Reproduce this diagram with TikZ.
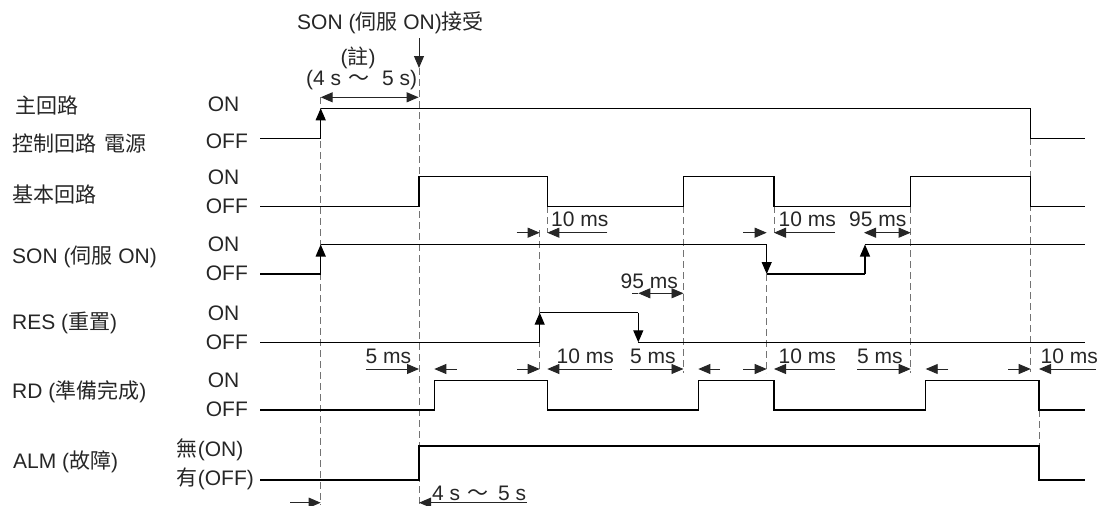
\documentclass[tikz,border=0pt]{standalone}
\usepackage{fontspec}
\setmainfont{Liberation Sans}
\newfontfamily\cjk{Noto Sans CJK TC}
\usetikzlibrary{arrows.meta}
\begin{document}
\begin{tikzpicture}[x=1pt,y=-1pt,
  sig/.style={line width=1.2pt,black},
  edgearrow/.style={sig,-{Triangle[length=12pt,width=10pt]}},
  dashln/.style={line width=1pt,black!55,dash pattern=on 7pt off 4pt},
  dim/.style={line width=0.9pt,black!85,-{Triangle[length=12pt,width=10pt]}},
  dimboth/.style={line width=0.9pt,black!85,{Triangle[length=12pt,width=10pt]}-{Triangle[length=12pt,width=10pt]}},
  lbl/.style={inner sep=0pt,anchor=west,font=\fontsize{21}{24}\selectfont,text=black!85},
  clbl/.style={inner sep=0pt,anchor=center,font=\fontsize{21}{24}\selectfont,text=black!85}]
\useasboundingbox (0,0) rectangle (1109,506);

% ---- left labels ----
\node[lbl] (l1) at (15,105) {\cjk 主回路};
\node[lbl] (l2) at (12,143) {\cjk 控制回路\hspace{0.4em}電源};
\node[lbl] (l3) at (12,195) {\cjk 基本回路};
\node[lbl] (l4) at (12,256.7) {SON ({\cjk 伺服} ON)};
\node[lbl] (l5) at (12,323.3) {RES ({\cjk 重置})};
\node[lbl] (l6) at (12,391.7) {RD ({\cjk 準備完成})};
\node[lbl] (l7) at (13,461.7) {ALM ({\cjk 故障})};

\node[lbl] (on1) at (207.7,104) {ON};
\node[lbl] (off1) at (205.7,141) {OFF};
\node[lbl] (on2) at (207.7,177.5) {ON};
\node[lbl] (off2) at (205.7,206) {OFF};
\node[lbl] (on3) at (207.7,244) {ON};
\node[lbl] (off3) at (205.7,273) {OFF};
\node[lbl] (on4) at (207.7,313) {ON};
\node[lbl] (off4) at (205.7,342) {OFF};
\node[lbl] (on5) at (207.7,380) {ON};
\node[lbl] (off5) at (205.7,409) {OFF};
\node[lbl] (on6) at (176.7,450) {{\cjk 無}(ON)};
\node[lbl] (off6) at (176.7,479) {{\cjk 有}(OFF)};

% ---- top annotations ----
\node[lbl] (acc) at (297,23) {SON ({\cjk 伺服} ON){\cjk 接受}};
\node[clbl] (note) at (358,58) {({\cjk 註})};
\node[lbl] (t45) at (306,80) {(4 s\hspace{0.35em}{\cjk ～}\hspace{0.6em}5 s)};
\coordinate (accA) at (419,38);
\coordinate (accB) at (419,68);
\draw[line width=0.9pt,black!85,-{Triangle[length=12pt,width=10pt]}] (accA) -- (accB);
\draw[dimboth,line width=1.2pt] (320.7,97.3) -- (418.6,97.3);

% ---- dashed guide lines ----
\draw[dashln] (320.7,97) -- (320.7,505);
\draw[dashln] (419,68) -- (419,505);
\draw[dashln] (539.7,230) -- (539.7,373);
\draw[dashln] (547.3,206) -- (547.3,233);
\draw[dashln] (683.5,206) -- (683.5,373);
\draw[dashln] (766.7,274) -- (766.7,373);
\draw[dashln] (774,206) -- (774,233);
\draw[dashln] (910.7,206) -- (910.7,373);
\draw[dashln] (1030.7,138) -- (1030.7,372);
\draw[dashln] (1039,410) -- (1039,446);

% ---- waveforms ----
% main circuit
\draw[sig] (260,138.3) -- (320.7,138.3);
\draw[edgearrow] (320.7,138.3) -- (320.7,108.3);
\draw[sig] (320.7,108.3) -- (1030.7,108.3) -- (1030.7,138.3) -- (1085,138.3);
% base circuit
\draw[sig] (260,206.3) -- (419,206.3) -- (419,176.7) -- (547.3,176.7) -- (547.3,206.3)
  -- (683.5,206.3) -- (683.5,176.7) -- (774,176.7) -- (774,206.3) -- (910.7,206.3)
  -- (910.7,176.7) -- (1030.7,176.7) -- (1030.7,206.3) -- (1085,206.3);
% SON
\draw[sig] (260,274) -- (320.7,274);
\draw[edgearrow] (320.7,274) -- (320.7,244.5);
\draw[sig] (320.7,244.5) -- (766.7,244.5);
\draw[edgearrow] (766.7,244.5) -- (766.7,274);
\draw[sig] (766.7,274) -- (865,274);
\draw[edgearrow] (865,274) -- (865,244.5);
\draw[sig] (865,244.5) -- (1085,244.5);
% RES
\draw[sig] (260,342.3) -- (539.7,342.3);
\draw[edgearrow] (539.7,342.3) -- (539.7,312.7);
\draw[sig] (539.7,312.7) -- (638.3,312.7);
\draw[edgearrow] (638.3,312.7) -- (638.3,342.3);
\draw[sig] (638.3,342.3) -- (1085,342.3);
% RD
\draw[sig] (260,410) -- (434.3,410) -- (434.3,380.7) -- (547.3,380.7) -- (547.3,410)
  -- (698.3,410) -- (698.3,380.7) -- (774,380.7) -- (774,410) -- (925.7,410)
  -- (925.7,380.7) -- (1039,380.7) -- (1039,410) -- (1085,410);
% ALM
\draw[sig] (260,480) -- (419,480) -- (419,446) -- (1039,446) -- (1039,480) -- (1085,480);

% ---- timing dimensions, row between base and SON ----
\node[lbl] (d1) at (551,219.3) {10 ms};
\draw[dim] (516.7,232.7) -- (539.7,232.7);
\draw[dim] (607.3,232.7) -- (547.3,232.7);
\node[lbl] (d2) at (778.5,219.3) {10 ms};
\draw[dim] (743.3,232.7) -- (766.7,232.7);
\draw[dim] (835,232.7) -- (774,232.7);
\node[lbl] (d3) at (849,219.3) {95 ms};
\draw[dimboth] (864,232.7) -- (910.7,232.7);

% ---- row between SON and RES ----
\node[lbl] (d4) at (620.5,281.7) {95 ms};
\draw[line width=0.9pt,black!85] (632,293.3) -- (638.3,293.3);
\draw[dimboth] (638.3,293.3) -- (683.5,293.3);

% ---- row between RES and RD ----
\node[lbl] (d5) at (365.5,356.7) {5 ms};
\draw[dim] (365.7,369) -- (419,369);
\draw[dim] (456.7,369) -- (434.3,369);
\node[lbl] (d6) at (556.5,356.7) {10 ms};
\draw[dim] (517.3,369) -- (539.7,369);
\draw[dim] (611.7,369) -- (547.3,369);
\node[lbl] (d7) at (630,356.7) {5 ms};
\draw[dim] (630,369) -- (683.5,369);
\draw[dim] (720,369) -- (698.3,369);
\node[lbl] (d8) at (778.5,356.7) {10 ms};
\draw[dim] (743.3,369) -- (766.7,369);
\draw[dim] (835,369) -- (774,369);
\node[lbl] (d9) at (857,356.7) {5 ms};
\draw[dim] (857.3,369) -- (910.7,369);
\draw[dim] (948.3,369) -- (925.7,369);
\node[lbl] (d10) at (1040.5,356.7) {10 ms};
\draw[dim] (1008.3,369) -- (1030.7,369);
\draw[dim] (1096,369) -- (1039,369);

% ---- bottom ----
\node[lbl] (b45) at (432,493) {4 s\hspace{0.35em}{\cjk ～}\hspace{0.45em}5 s};
\draw[dim,line width=1.3pt] (290,502.7) -- (320.7,502.7);
\draw[dim,line width=1.3pt] (527,502.7) -- (419,502.7);
\end{tikzpicture}
\end{document}
